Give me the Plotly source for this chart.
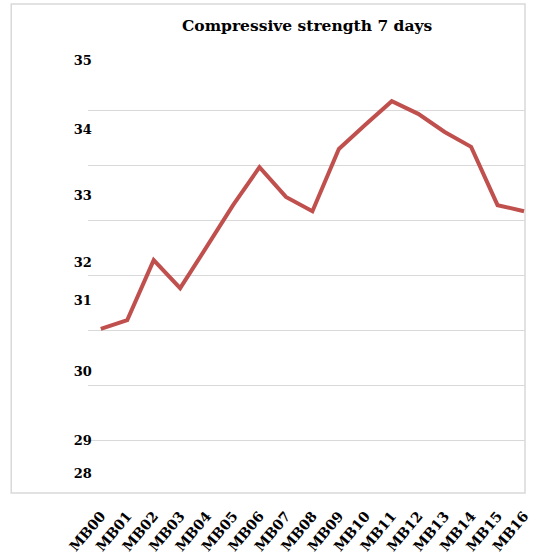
import plotly.graph_objects as go

categories = ["MB00", "MB01", "MB02", "MB03", "MB04", "MB05", "MB06", "MB07", "MB08",
              "MB09", "MB10", "MB11", "MB12", "MB13", "MB14", "MB15", "MB16"]
strength_7d = [30.02, 30.18, 31.27, 30.76, 31.51, 32.27, 32.96, 32.42, 32.16,
               33.29, 33.73, 34.16, 33.93, 33.60, 33.33, 32.27, 32.16]
grid_values = [28, 29, 30, 31, 32, 33, 34, 35]
y_tick_labels = ["35", "34", "33", "32", "31", "30", "29", "28"]

# layout: where each y label is drawn on the (shifted) label axis
y_label_positions = [34.91, 33.65, 32.44, 31.22, 30.53, 29.24, 28.0, 27.4]

W, H = 534, 557
ML, MR, MT, MB = 88, 2, 55, 62
pw, ph = W - ML - MR, H - MT - MB

def px_x(px):
    return (px - ML) / pw

def px_y(py):
    return (H - MB - py) / ph

serif = "DejaVu Serif"
red = "#C0504D"
grid = "#D9D9D9"

fig = go.Figure()
fig.add_trace(go.Scatter(
    x=list(range(len(categories))), y=strength_7d, mode="lines",
    line=dict(color=red, width=4), cliponaxis=False, showlegend=False,
))
# invisible trace to activate the label axis
fig.add_trace(go.Scatter(x=[0], y=[30], yaxis="y2", mode="markers",
                         marker=dict(opacity=0), showlegend=False, hoverinfo="skip"))

fig.update_layout(
    width=W, height=H,
    margin=dict(l=ML, r=MR, t=MT, b=MB),
    paper_bgcolor="white", plot_bgcolor="white",
    xaxis=dict(
        range=[-0.484, 16.037], tickvals=list(range(len(categories))), ticktext=categories,
        tickangle=-50, showgrid=False, zeroline=False, showline=False, ticks="",
        ticklabeloverflow="allow", ticklabelstandoff=9,
        tickfont=dict(family=serif, size=14, color="black", weight="bold"),
    ),
    yaxis=dict(
        range=[27, 35], tickvals=grid_values, showticklabels=False,
        showgrid=True, gridcolor=grid, gridwidth=1, zeroline=False, showline=False, ticks="",
    ),
    yaxis2=dict(
        range=[27, 35], overlaying="y", anchor="free", position=px_x(92), side="left",
        tickvals=y_label_positions, ticktext=y_tick_labels, showgrid=False,
        zeroline=False, showline=False, ticks="",
        tickfont=dict(family=serif, size=13, color="black", weight="bold"),
    ),
    shapes=[dict(type="rect", xref="paper", yref="paper",
                 x0=px_x(10), x1=px_x(532), y0=px_y(493), y1=px_y(4),
                 line=dict(color=grid, width=1.5), fillcolor="rgba(0,0,0,0)", layer="below")],
    annotations=[dict(text="Compressive strength 7 days", xref="paper", yref="paper",
                      x=px_x(310), y=px_y(26), xanchor="center", yanchor="middle",
                      showarrow=False,
                      font=dict(family=serif, size=15.5, color="black", weight="bold"))],
)

fig.write_html("out.html")
